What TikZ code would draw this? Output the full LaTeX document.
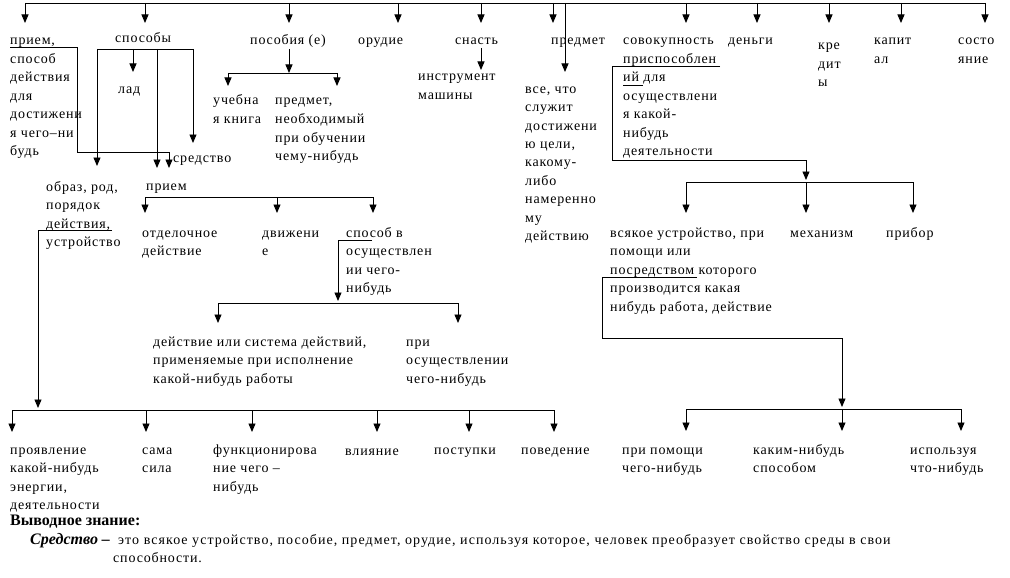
\documentclass[tikz,border=0pt]{standalone}
\usepackage{fontspec}
\setmainfont{Liberation Serif}
\newfontfamily\spfont[LetterSpace=6]{Liberation Serif}
\newfontfamily\spwfont[LetterSpace=7.5]{Liberation Serif}
\usetikzlibrary{arrows.meta}
\newcommand\dfont{\spfont\fontsize{14}{18.5}\selectfont}
\newcommand\ml[1]{\begin{tabular}[t]{@{}l@{}}#1\end{tabular}}
\begin{document}
\begin{tikzpicture}[x=1pt,y=-1pt,
  lbl/.style={anchor=base west,inner sep=0pt,font=\dfont},
  ln/.style={line width=0.9pt},
  arr/.style={line width=0.9pt,-{Triangle[width=7pt,length=8.5pt]}}]
\fill[white] (0,0) rectangle (1010,578);
\useasboundingbox (0,0) rectangle (1010,578);
% ---------- labels ----------
\node[lbl] (priem1) at (10,45) {\ml{прием,\\способ\\действия\\для\\достижени\\я чего–ни\\будь}};
\node[lbl] (sposoby) at (115,43) {способы};
\node[lbl] (lad) at (118,93) {лад};
\node[lbl] (posob) at (250,45) {пособия (е)};
\node[lbl] (ucheb) at (213,105) {\ml{учебна\\я книга}};
\node[lbl] (predm2) at (275,105) {\ml{предмет,\\необходимый\\при обучении\\чему-нибудь}};
\node[lbl] (orud) at (358,45) {орудие};
\node[lbl] (snast) at (455,45) {снасть};
\node[lbl] (instr) at (418,81) {\ml{инструмент\\машины}};
\node[lbl] (predmet) at (551,45) {предмет};
\node[lbl] (vse) at (525,93) {\ml{все, что\\служит\\достижени\\ю цели,\\какому-\\либо\\намеренно\\му\\действию}};
\node[lbl] (sovok) at (623,45) {\ml{совокупность\\приспособлен\\ий для\\осуществлени\\я какой-\\нибудь\\деятельности}};
\node[lbl] (dengi) at (728,45) {деньги};
\node[lbl] (kred) at (818,50) {\ml{кре\\дит\\ы}};
\node[lbl] (kapit) at (874,45) {\ml{капит\\ал}};
\node[lbl] (sost) at (958,45) {\ml{состо\\яние}};
\node[lbl] (sredstvo) at (173,162) {средство};
\node[lbl] (obraz) at (46,191) {\ml{образ, род,\\порядок\\действия,\\устройство}};
\node[lbl] (priem2) at (146,190) {прием};
\node[lbl] (otdel) at (142,237) {\ml{отделочное\\действие}};
\node[lbl] (dvizh) at (262,237) {\ml{движени\\е}};
\node[lbl] (sposobv) at (346,237) {\ml{способ в\\осуществлен\\ии чего-\\нибудь}};
\node[lbl] (deistv) at (153,346) {\ml{действие или система действий,\\применяемые при исполнение\\какой-нибудь работы}};
\node[lbl] (pri) at (406,346) {\ml{при\\осуществлении\\чего-нибудь}};
\node[lbl] (vsyak) at (610,237) {\ml{всякое устройство, при\\помощи или\\посредством которого\\производится какая\\нибудь работа, действие}};
\node[lbl] (mehan) at (790,237) {механизм};
\node[lbl] (pribor) at (886,237) {прибор};
\node[lbl] (pripom) at (622,454) {\ml{при помощи\\чего-нибудь}};
\node[lbl] (kakim) at (753,454) {\ml{каким-нибудь\\способом}};
\node[lbl] (ispolz) at (910,454) {\ml{используя\\что-нибудь}};
\node[lbl] (proyav) at (10,454) {\ml{проявление\\какой-нибудь\\энергии,\\деятельности}};
\node[lbl] (sama) at (142,454) {\ml{сама\\сила}};
\node[lbl] (funk) at (213,454) {\ml{функционирова\\ние чего –\\нибудь}};
\node[lbl] (vliyan) at (345,455) {влияние};
\node[lbl] (postup) at (434,454) {поступки};
\node[lbl] (pove) at (521,454) {поведение};
% conclusion
\node[anchor=base west,inner sep=0pt,font=\fontsize{16}{18}\selectfont\bfseries] (vyvod) at (10,525) {Выводное знание:};
\node[anchor=base west,inner sep=0pt,font=\fontsize{16}{18}\selectfont\bfseries\itshape] (sred) at (30,544) {Средство –};
\node[lbl,font=\spwfont\fontsize{14}{18.5}\selectfont] (def1) at (118,544) {это всякое устройство, пособие, предмет, орудие, используя которое, человек преобразует свойство среды в свои};
\node[lbl] (def2) at (113,562) {способности.};
% ---------- connectors ----------
\draw[ln] (25,3) -- (985,3);
\foreach \x in {25,145,289,398,481,553,686,757,829,901,985}
  \draw[arr] (\x,3) -- (\x,23);
\draw[arr] (565,3) -- (565,72);
% прием,
\draw[arr] (10,47) -- (77,47) -- (77,152) -- (169,152) -- (169,168);
% способы
\draw[ln] (97,49) -- (193,49);
\draw[arr] (97,49) -- (97,166);
\draw[arr] (133,49) -- (133,72);
\draw[arr] (157,49) -- (157,168);
\draw[arr] (193,49) -- (193,143);
% пособия
\draw[arr] (289,49) -- (289,73);
\draw[ln] (228,73) -- (337,73);
\draw[arr] (228,73) -- (228,86);
\draw[arr] (337,73) -- (337,86);
% снасть
\draw[arr] (481,48) -- (481,70);
% прием 2
\draw[ln] (145,197) -- (373,197);
\draw[arr] (145,197) -- (145,213);
\draw[arr] (277,197) -- (277,213);
\draw[arr] (373,197) -- (373,213);
% способ в
\draw[arr] (372,240) -- (338,240) -- (338,301);
\draw[ln] (218,303) -- (458,303);
\draw[arr] (218,303) -- (218,323);
\draw[arr] (458,303) -- (458,323);
% образ
\draw[arr] (112,230) -- (38,230) -- (38,408);
\draw[ln] (12,410) -- (554,410);
\foreach \x in {12,146,252,377,469,554}
  \draw[arr] (\x,410) -- (\x,432);
% совокупность
\draw[arr] (720,66) -- (612,66) -- (612,160) -- (806,160) -- (806,180);
\draw[ln] (623,85) -- (643,85);
\draw[ln] (686,182) -- (913,182);
\foreach \x in {686,806,913}
  \draw[arr] (\x,182) -- (\x,213);
% посредством
\draw[arr] (697,277) -- (602,277) -- (602,338) -- (842,338) -- (842,407);
\draw[ln] (686,409) -- (961,409);
\foreach \x in {686,842,961}
  \draw[arr] (\x,409) -- (\x,431);
\end{tikzpicture}
\end{document}
